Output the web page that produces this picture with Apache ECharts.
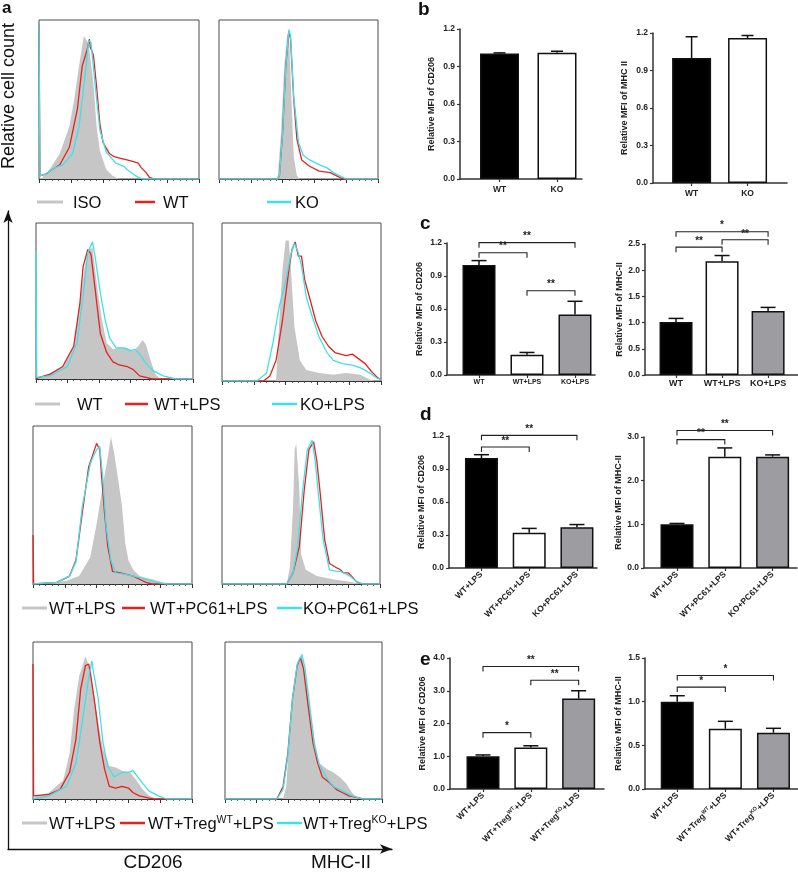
<!DOCTYPE html>
<html><head><meta charset="utf-8">
<script src="https://cdn.jsdelivr.net/npm/echarts@6/dist/echarts.min.js"></script>
<style>html,body{margin:0;padding:0;background:#fff}#c{width:798px;height:872px}</style>
</head><body><div id="c"></div>
<script>
// ---------------- DATA ----------------
// Histograms: [x% of log axis, y% of box height]
const h1L_iso = [[0,0],[2,1],[6,5],[13,16],[19,33],[22,50],[25,71],[28,90],[29,91],[31,85],[34,60],[36,33],[38,18],[42,6],[46,2],[50,0],[100,0]];
const h1L_wt  = [[0,97],[0.6,2],[4,3],[7,5],[13,9],[19,20],[24,44],[27,71],[30,81],[31.5,88],[32,83],[34,78],[36,58],[38,35],[40,23],[44,16],[47,14],[51,13],[55,12],[59,11],[62,10],[64,7],[67,4],[69,1],[72,0],[100,0]];
const h1L_ko  = [[0,97],[0.6,2],[4,3],[10,7],[15,9],[21,16],[25,33],[28,58],[30,77],[31,87],[32.5,86],[35,60],[38,31],[42,17],[48,10],[53,8],[55,6],[59,3],[62,1],[65,0],[100,0]];
const h1R_iso = [[0,0],[36,0],[37,2],[39,29],[41,71],[43,92],[44,90],[45.6,50],[47,14],[49,2],[51,0],[100,0]];
const h1R_wt  = [[0,0],[37,0],[38,2],[40,29],[42,71],[44,93],[45,88],[47,50],[49,25],[52,12],[57,8],[63,5],[70,4],[74,2],[78,0],[100,0]];
const h1R_ko  = [[0,0],[37,0],[38,2],[40,29],[42,71],[44,94],[45,90],[47,52],[50,23],[53,15],[57,12],[63,9],[68,7],[72,4],[76,2],[80,0],[100,0]];

const h2L_wt   = [[0,0],[2,1],[9,4],[17,8],[24,21],[28,49],[31,72],[33,83],[36,84],[39,59],[42,38],[45,23],[49,19],[53,20],[58,20],[62,18],[65,21],[68,25],[70,22],[73,12],[76,3],[79,0],[100,0]];
const h2L_wtl  = [[0,0],[2,1],[9,3],[17,8],[24,21],[28,49],[30,72],[33,83],[35,80],[37.5,59],[41,29],[45,17],[49,11],[53,9],[58,8],[62,6],[66,2],[70,1],[74,0],[100,0]];
const h2L_kol  = [[0,82],[0.5,1],[9,2],[20,8],[26,23],[30,53],[33,81],[36,88],[38,76],[41,55],[44,38],[47,26],[51,20],[56,20],[60,18],[63,19],[66,16],[70,10],[75,5],[81,2],[89,0],[100,0]];
const h2R_wt   = [[0,0],[34,0],[34.5,1],[36,38],[38,70],[40,89],[42,89],[43.5,68],[45.6,34],[49,13],[53,7],[61,5],[70,4],[78,5],[87,4],[93,1],[96,0],[100,0]];
const h2R_wtl  = [[0,0],[26,0],[30,3],[34,13],[38,38],[42,70],[44,83],[46,88],[48,79],[50,79],[52,64],[55,53],[59,38],[63,28],[67,22],[71,18],[78,16],[82,17],[86,14],[90,11],[94,6],[98,2],[100,1]];
const h2R_kol  = [[0,0],[22,0],[28,5],[32,24],[36,47],[40,63],[43.5,81],[45.6,87],[47.7,82],[50,73],[53,53],[57,40],[61,28],[66,18],[70,13],[76,11],[82,10],[88,8],[93,5],[97,2],[100,1]];

const h3L_wtl  = [[0,0],[10,0.5],[21,2],[29,5],[36,17],[40,38],[44,63],[47,80],[49,93],[51,83],[53,70],[56,49],[58,26],[60,15],[63,9],[67,5],[71,4],[75,3],[82,1],[88,0],[100,0]];
const h3L_pc   = [[0,31],[0.4,0],[15,1],[23,5],[27,15],[31,45],[35,74],[38,83],[40,89],[42,85],[43,70],[45,45],[47,24],[50,8],[55,7],[63,5],[67,3],[71,1],[75,0],[100,0]];
const h3L_kopc = [[0,0],[15,1],[23,5],[27,14],[31,49],[36,76],[38,81],[40,85],[42,87],[44,66],[46,36],[49,15],[52,7],[59,6],[63,5],[67,4],[71,3],[78,1],[84,0],[100,0]];
const h3R_wtl  = [[0,0],[41,0],[41.5,1],[43,11],[45,49],[46,85],[47,89],[49,59],[50,19],[53,9],[60,5],[70,3],[81,1.5],[87,0],[100,0]];
const h3R_pc   = [[0,0],[41,0],[41.5,1],[45,7],[49,24],[52,59],[55,85],[58,90],[60,78],[62,59],[65,28],[68,13],[73,10],[75,9],[77,7],[80,7],[82,5],[85,1.5],[89,0],[100,0]];
const h3R_kopc = [[0,0],[41,0],[41.5,1],[45,7],[48,24],[51,59],[54,85],[57,91],[59,78],[61,57],[64,28],[68,9],[73,8],[75,8],[81,5],[85,1.5],[89,0],[100,0]];

const h4L_wtl  = [[0,0],[2,2],[10,4],[19,12],[23,29],[26,58],[29,78],[33,91],[35,85],[38,68],[41,49],[44,32],[48,21],[52,20],[56,18],[61,17],[65,12],[69,6],[73,2],[78,0],[100,0]];
const h4L_twt  = [[0,86],[0.4,2],[10,3],[17,6],[23,17],[27,38],[30,70],[33,85],[35,86],[36,81],[39,60],[42,36],[45,19],[48,8],[52,7],[56,8],[60,7],[63,4],[67,2],[73,0.5],[76,0],[100,0]];
const h4L_tko  = [[0,0],[10,2],[21,8],[27,23],[31,49],[35,77],[37,88],[38,81],[41,64],[44,36],[47,21],[51,14],[56,17],[60,17],[63,18],[66,14],[69,10],[73,5],[79,2],[84,0],[100,0]];
const h4R_wtl  = [[0,0],[37,0],[39,8],[41,38],[44,70],[47,89],[49,91],[51,81],[54,59],[57,38],[60,23],[65,19],[69,17],[73,14],[77,10],[81,4],[84,1],[86,0],[100,0]];
const h4R_twt  = [[0,0],[33,0],[37,8],[40,29],[43,64],[46,85],[48,90],[50,83],[53,59],[56,36],[59,23],[62,14],[67,10],[71,6],[75,4],[79,2],[84,1],[88,0],[100,0]];
const h4R_tko  = [[0,0],[33,0],[37,6],[40,27],[43,64],[46,86],[49,92],[51,83],[54,59],[57,34],[60,22],[65,13],[69,8],[75,5],[81,2],[88,0],[100,0]];

const legendRow1 = ['ISO','WT','KO'];
const legendRow2 = ['WT','WT+LPS','KO+LPS'];
const legendRow3 = ['WT+LPS','WT+PC61+LPS','KO+PC61+LPS'];
const legendRow4 = ['WT+LPS','WT+Treg{sup|WT}+LPS','WT+Treg{sup|KO}+LPS'];

// Bar charts
const bCats = ['WT','KO'];
const bCD206 = [1.005, 1.01];   const bCD206Err = [0.004, 0.012];
const bMHC   = [1.0, 1.16];     const bMHCErr   = [0.17, 0.02];
const cCats = ['WT','WT+LPS','KO+LPS'];
const cCD206 = [1.0, 0.185, 0.55]; const cCD206Err = [0.04, 0.02, 0.12];
const cMHC   = [1.01, 2.17, 1.22]; const cMHCErr   = [0.07, 0.11, 0.07];
const dCats = ['WT+LPS','WT+PC61+LPS','KO+PC61+LPS'];
const dCD206 = [1.0, 0.32, 0.37];  const dCD206Err = [0.03, 0.04, 0.025];
const dMHC   = [1.0, 2.55, 2.55];  const dMHCErr   = [0.02, 0.2, 0.04];
const eCats = ['WT+LPS','WT+Treg{sup|WT}+LPS','WT+Treg{sup|KO}+LPS'];
const eCD206 = [1.0, 1.27, 2.76];  const eCD206Err = [0.04, 0.05, 0.24];
const eMHC   = [1.0, 0.69, 0.645]; const eMHCErr   = [0.068, 0.085, 0.05];

// significance brackets: [fromIndex, toIndex, level, label]
const cCD206Sig = [[0,2,1.203,'**'],[0,1,1.112,'**'],[1,2,0.766,'**']];
const cMHCSig   = [[0,2,2.735,'*'],[0,1,2.44,'**'],[1,2,2.58,'**']];
const dCD206Sig = [[0,2,1.206,'**'],[0,1,1.10,'**']];
const dMHCSig   = [[0,2,3.15,'**'],[0,1,2.94,'**']];
const eCD206Sig = [[0,2,3.74,'**'],[1,2,3.32,'**'],[0,1,1.72,'*']];
const eMHCSig   = [[0,2,1.30,'*'],[0,1,1.167,'*']];

// ---------------- STYLE / LAYOUT ----------------
const FONT = 'Arial, "Liberation Sans", Helvetica, sans-serif';
const GRAY = '#c6c6c6', RED = '#e2231e', CYAN = '#3fe0ea';
const BAR_FILLS = ['#000000', '#ffffff', '#9d9da1'];

const histPanels = [
  {box:[39,20,160,159],  curves:[h1L_iso,h1L_wt,h1L_ko]},
  {box:[219,20,159,159], curves:[h1R_iso,h1R_wt,h1R_ko]},
  {box:[36,223,157,156], curves:[h2L_wt,h2L_wtl,h2L_kol]},
  {box:[222,223,159,158],curves:[h2R_wt,h2R_wtl,h2R_kol]},
  {box:[33,426,159,158], curves:[h3L_wtl,h3L_pc,h3L_kopc]},
  {box:[222,426,158,158],curves:[h3R_wtl,h3R_pc,h3R_kopc]},
  {box:[33,642,159,157], curves:[h4L_wtl,h4L_twt,h4L_tko]},
  {box:[225,642,157,157],curves:[h4R_wtl,h4R_twt,h4R_tko]}
];

const legendLayout = [
  {labels:legendRow1, y:202, items:[[37,63,73],[135,155,163],[267,291,295]]},
  {labels:legendRow2, y:404, items:[[35,60,77],[125,148,154],[272,297,300]]},
  {labels:legendRow3, y:608, items:[[22,47,49],[122,145,150],[277,302,303]]},
  {labels:legendRow4, y:823, items:[[22,47,49],[120,145,148],[277,302,303]]}
];

const barPanels = [
  {cats:bCats, vals:bCD206, errs:bCD206Err, sig:[], title:'Relative MFI of CD206', ymax:1.2, yint:0.3, grid:[460,29,122,150], xr:[-0.687,1.435], barW:39, capW:12, catFont:8.5, rot:0, catMargin:6, nameGap:24},
  {cats:bCats, vals:bMHC, errs:bMHCErr, sig:[], title:'Relative MFI of MHC II', ymax:1.2, yint:0.3, grid:[653,33,134,150], xr:[-0.69,1.705], barW:39, capW:12, catFont:8.5, rot:0, catMargin:6, nameGap:24},
  {cats:cCats, vals:cCD206, errs:cCD206Err, sig:cCD206Sig, title:'Relative MFI of CD206', ymax:1.2, yint:0.3, grid:[447,243,148,132], xr:[-0.667,2.417], barW:33, capW:15, catFont:7, rot:0, catMargin:4, nameGap:23},
  {cats:cCats, vals:cMHC, errs:cMHCErr, sig:cMHCSig, title:'Relative MFI of MHC-II', ymax:2.5, yint:0.5, grid:[645,244,153,131], xr:[-0.674,2.65], barW:33, capW:15, catFont:9, rot:0, catMargin:4, nameGap:20},
  {cats:dCats, vals:dCD206, errs:dCD206Err, sig:dCD206Sig, title:'Relative MFI of CD206', ymax:1.2, yint:0.3, grid:[449,436,148,132], xr:[-0.68,2.42], barW:33, capW:15, catFont:8.5, rot:45, catMargin:5, nameGap:23},
  {cats:dCats, vals:dMHC, errs:dMHCErr, sig:dMHCSig, title:'Relative MFI of MHC-II', ymax:3.0, yint:1.0, grid:[644,437,153,131], xr:[-0.69,2.51], barW:33, capW:15, catFont:8.5, rot:45, catMargin:5, nameGap:21},
  {cats:eCats, vals:eCD206, errs:eCD206Err, sig:eCD206Sig, title:'Relative MFI of CD206', ymax:4.0, yint:1.0, grid:[450,658,154,131], xr:[-0.69,2.53], barW:33, capW:15, catFont:8.5, rot:45, catMargin:5, nameGap:23},
  {cats:eCats, vals:eMHC, errs:eMHCErr, sig:eMHCSig, title:'Relative MFI of MHC-II', ymax:1.5, yint:0.5, grid:[645,658,153,131], xr:[-0.67,2.51], barW:33, capW:15, catFont:8.5, rot:45, catMargin:5, nameGap:22}
];

// ---------------- BUILD ----------------
const grids = [], xAxes = [], yAxes = [], series = [], graphic = [];

histPanels.forEach(p => {
  const gi = grids.length;
  grids.push({left:p.box[0], top:p.box[1], width:p.box[2], height:p.box[3], show:true, borderColor:'#4a4a4a', borderWidth:1, backgroundColor:'transparent'});
  xAxes.push({gridIndex:gi, type:'value', min:0, max:100, interval:20,
    axisLine:{show:true, onZero:false, lineStyle:{color:'#333', width:1}},
    axisTick:{show:true, length:4, lineStyle:{color:'#333', width:1}},
    minorTick:{show:true, splitNumber:5, length:2, lineStyle:{color:'#444', width:0.8}},
    axisLabel:{show:false}, splitLine:{show:false}, minorSplitLine:{show:false}});
  yAxes.push({gridIndex:gi, type:'value', min:0, max:100, show:false, splitLine:{show:false}});
  series.push({type:'line', xAxisIndex:gi, yAxisIndex:gi, data:p.curves[0], symbol:'none', silent:true,
    lineStyle:{width:0, color:GRAY}, areaStyle:{color:GRAY, opacity:1}, z:1});
  series.push({type:'line', xAxisIndex:gi, yAxisIndex:gi, data:p.curves[1], symbol:'none', silent:true,
    lineStyle:{width:1.3, color:RED}, z:2});
  series.push({type:'line', xAxisIndex:gi, yAxisIndex:gi, data:p.curves[2], symbol:'none', silent:true,
    lineStyle:{width:1.3, color:CYAN}, z:3});
});

// big arrow axes
{
  const gi = grids.length;
  grids.push({left:8, top:211, width:384, height:638, show:false});
  const arrowLine = {show:true, onZero:false, symbol:['none','arrow'], symbolSize:[7,12], lineStyle:{color:'#111', width:1.3}};
  xAxes.push({gridIndex:gi, type:'value', min:0, max:1, axisLine:arrowLine, axisTick:{show:false}, axisLabel:{show:false}, splitLine:{show:false}});
  yAxes.push({gridIndex:gi, type:'value', min:0, max:1, axisLine:arrowLine, axisTick:{show:false}, axisLabel:{show:false}, splitLine:{show:false}});
}

const catRich = {sup:{fontSize:5.5, fontWeight:'bold', color:'#222', padding:[0,0,5,0], verticalAlign:'bottom'}};

barPanels.forEach(p => {
  const gi = grids.length;
  grids.push({left:p.grid[0], top:p.grid[1], width:p.grid[2], height:p.grid[3], show:false});
  const idx = p.cats.map((c,i)=>i);
  xAxes.push({gridIndex:gi, type:'value', min:p.xr[0], max:p.xr[1],
    axisLine:{show:true, onZero:false, lineStyle:{color:'#333', width:1.5}},
    axisTick:{show:true, customValues:idx, length:3, lineStyle:{color:'#333', width:1.2}},
    axisLabel:{show:true, customValues:idx, formatter:v=>p.cats[Math.round(v)], rotate:p.rot, margin:p.catMargin,
      fontSize:p.catFont, fontWeight:'bold', color:'#222', fontFamily:FONT, rich:catRich},
    splitLine:{show:false}});
  yAxes.push({gridIndex:gi, type:'value', min:0, max:p.ymax, interval:p.yint,
    axisLine:{show:true, onZero:false, lineStyle:{color:'#333', width:1.5}},
    axisTick:{show:true, length:3, lineStyle:{color:'#333', width:1.2}},
    axisLabel:{formatter:v=>v.toFixed(1), fontSize:8.5, fontWeight:'bold', color:'#222', fontFamily:FONT, margin:5},
    splitLine:{show:false},
    name:p.title, nameLocation:'middle', nameGap:p.nameGap, nameRotate:90,
    nameTextStyle:{fontSize:9, fontWeight:'bold', color:'#222', fontFamily:FONT}});
  series.push({type:'bar', xAxisIndex:gi, yAxisIndex:gi, barWidth:p.barW, silent:true,
    data:p.vals.map((v,i)=>({value:[i,v], itemStyle:{color:BAR_FILLS[i]}})),
    itemStyle:{borderColor:'#111', borderWidth:1.5}, encode:{x:0,y:1}, z:2});
  const capW = p.capW, vals = p.vals, errs = p.errs;
  series.push({type:'custom', xAxisIndex:gi, yAxisIndex:gi, clip:false, silent:true, z:5,
    data:vals.map((v,i)=>[i, v]), encode:{x:0, y:1},
    renderItem:(params, api)=>{
      const i = params.dataIndex;
      const b = api.coord([i, vals[i]]), t = api.coord([i, vals[i] + errs[i]]);
      return {type:'group', children:[
        {type:'line', shape:{x1:b[0], y1:b[1], x2:t[0], y2:t[1]}, style:{stroke:'#111', lineWidth:1.5}},
        {type:'line', shape:{x1:t[0]-capW/2, y1:t[1], x2:t[0]+capW/2, y2:t[1]}, style:{stroke:'#111', lineWidth:1.5}}
      ]};
    }});
  if (p.sig.length) {
    const sig = p.sig;
    series.push({type:'custom', xAxisIndex:gi, yAxisIndex:gi, clip:false, silent:true, z:6,
      data:sig.map(s=>[s[0], s[2]]), encode:{x:0, y:1},
      renderItem:(params, api)=>{
        const s = sig[params.dataIndex];
        const p1 = api.coord([s[0], s[2]]), p2 = api.coord([s[1], s[2]]);
        const d = 5;
        return {type:'group', children:[
          {type:'polyline', shape:{points:[[p1[0],p1[1]+d],[p1[0],p1[1]],[p2[0],p2[1]],[p2[0],p2[1]+d]]}, style:{stroke:'#222', lineWidth:1.1, fill:'none'}},
          {type:'text', style:{text:s[3], x:(p1[0]+p2[0])/2, y:p1[1]-1, textAlign:'center', textVerticalAlign:'bottom',
            font:'bold 10px '+FONT, fill:'#222'}}
        ]};
      }});
  }
});

// legends for histograms
const legColors = [GRAY, RED, CYAN];
legendLayout.forEach(row => {
  row.items.forEach((it, k) => {
    graphic.push({type:'line', shape:{x1:it[0], y1:row.y, x2:it[1], y2:row.y}, style:{stroke:legColors[k], lineWidth:k===0?3:2.5}, silent:true});
    graphic.push({type:'text', silent:true, style:{text:row.labels[k], x:it[2], y:row.y+1, textAlign:'left', textVerticalAlign:'middle',
      font:'16.5px '+FONT, fill:'#111', rich:{sup:{fontSize:10.5, fontFamily:FONT, fill:'#111', padding:[0,0,7,0], verticalAlign:'bottom'}}}});
  });
});

// axis titles & panel letters
graphic.push({type:'text', silent:true, rotation:Math.PI/2, x:9, y:96, style:{text:'Relative cell count', x:0, y:0, textAlign:'center', textVerticalAlign:'middle', font:'18px '+FONT, fill:'#111'}});
graphic.push({type:'text', silent:true, style:{text:'CD206', x:153, y:863, textAlign:'center', textVerticalAlign:'middle', font:'19px '+FONT, fill:'#111'}});
graphic.push({type:'text', silent:true, style:{text:'MHC-II', x:341, y:863, textAlign:'center', textVerticalAlign:'middle', font:'19px '+FONT, fill:'#111'}});
const letters = [['a',2,0,17],['b',418,0,19],['c',420,214,19],['d',420,405,19],['e',420,650,19]];
letters.forEach(l => graphic.push({type:'text', silent:true, style:{text:l[0], x:l[1], y:l[2], textAlign:'left', textVerticalAlign:'top', font:'bold '+l[3]+'px '+FONT, fill:'#111'}}));

const chart = echarts.init(document.getElementById('c'), null, {renderer:'canvas'});
chart.setOption({
  backgroundColor:'#ffffff',
  animation:false,
  textStyle:{fontFamily:FONT},
  grid:grids, xAxis:xAxes, yAxis:yAxes, series:series, graphic:graphic
});
</script>
</body></html>
